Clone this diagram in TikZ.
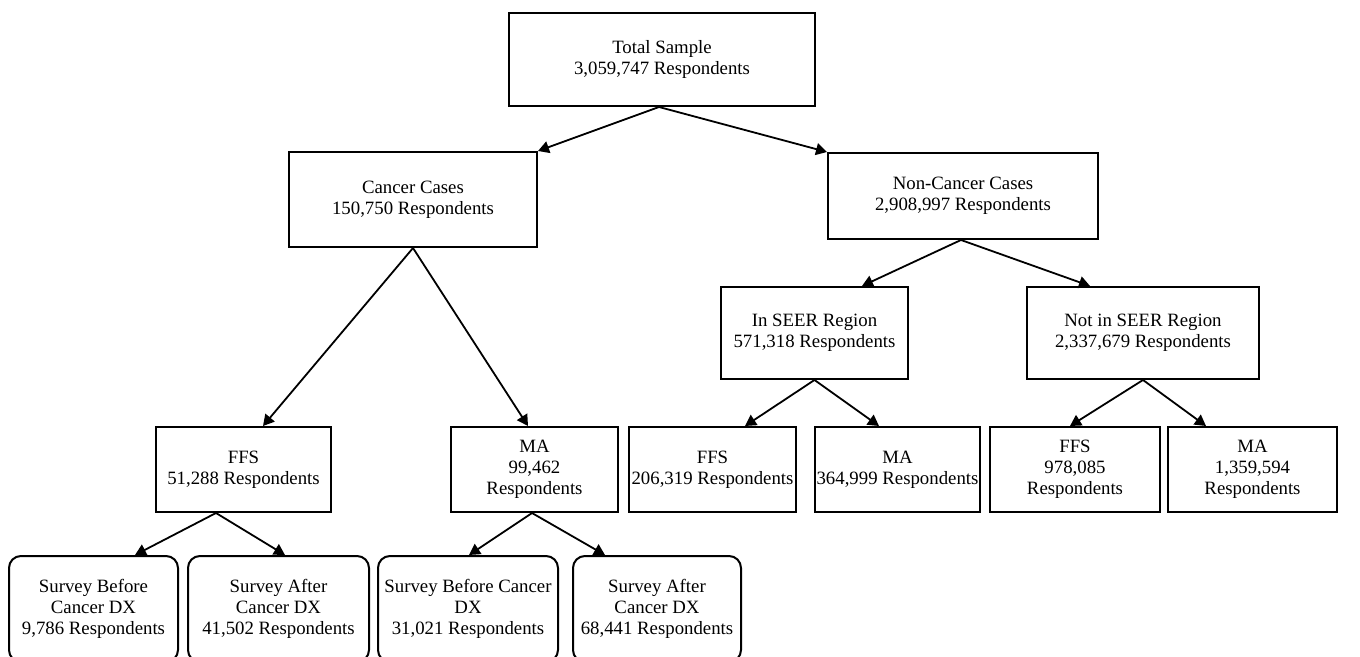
\documentclass[tikz,border=0pt]{standalone}
\usepackage{fontspec}
\setmainfont{Liberation Serif}
\usetikzlibrary{arrows.meta}
\tikzset{
  box/.style={draw=black, line width=1pt, align=center, inner sep=1pt,
    font=\fontsize{9.4pt}{10.5pt}\selectfont, minimum height=42.5pt},
  rbox/.style={box, rounded corners=6pt, minimum height=53pt},
  conn/.style={draw=black, line width=0.9pt, -{Triangle[length=5.5pt,width=6pt]}}
}
\begin{document}
\begin{tikzpicture}[x=0.5pt,y=-0.5pt]
\clip (0,0) rectangle (1360,657);
\fill[white] (0,0) rectangle (1360,657);
% level 0
\node[box, minimum width=153pt, minimum height=46.5pt] (tot) at (662,59.5) {Total Sample\\3,059,747 Respondents};
% level 1
\node[box, minimum width=124pt, minimum height=47.5pt] (cc) at (413,199.5) {Cancer Cases\\150,750 Respondents};
\node[box, minimum width=135pt, minimum height=43pt] (nc) at (963,196) {Non-Cancer Cases\\2,908,997 Respondents};
% level 2 (non-cancer)
\node[box, minimum width=93.5pt, minimum height=46pt] (ins) at (814.5,333) {In SEER Region\\571,318 Respondents};
\node[box, minimum width=116pt, minimum height=46pt] (nins) at (1143,333) {Not in SEER Region\\2,337,679 Respondents};
% level 3
\node[box, minimum width=87.5pt] (cffs) at (243.5,469.5) {FFS\\51,288 Respondents};
\node[box, minimum width=83.5pt] (cma) at (534.5,469.5) {MA\\99,462\\Respondents};
\node[box, minimum width=83.5pt] (iffs) at (712.5,469.5) {FFS\\206,319 Respondents};
\node[box, minimum width=82.5pt] (ima) at (897.5,469.5) {MA\\364,999 Respondents};
\node[box, minimum width=85pt] (nffs) at (1075,469.5) {FFS\\978,085\\Respondents};
\node[box, minimum width=84.5pt] (nma) at (1252.5,469.5) {MA\\1,359,594\\Respondents};
% level 4
\node[rbox, minimum width=84.5pt] (r1) at (93.5,609) {Survey Before\\Cancer DX\\9,786 Respondents};
\node[rbox, minimum width=90.5pt] (r2) at (278.5,609) {Survey After\\Cancer DX\\41,502 Respondents};
\node[rbox, minimum width=90pt] (r3) at (468,609) {Survey Before Cancer\\DX\\31,021 Respondents};
\node[rbox, minimum width=84pt] (r4) at (657,609) {Survey After\\Cancer DX\\68,441 Respondents};
% connectors
\draw[conn] ([xshift=-1.5pt]tot.south) -- (cc.north east);
\draw[conn] ([xshift=-1.5pt]tot.south) -- (nc.north west);
\draw[conn] (cc.south) -- ([xshift=9.75pt]cffs.north);
\draw[conn] (cc.south) -- ([xshift=-3.25pt]cma.north);
\draw[conn] ([xshift=-1pt]nc.south) -- ([xshift=23.75pt]ins.north);
\draw[conn] ([xshift=-1pt]nc.south) -- ([xshift=-26.5pt]nins.north);
\draw[conn] (ins.south) -- ([xshift=16.25pt]iffs.north);
\draw[conn] (ins.south) -- ([xshift=-9.25pt]ima.north);
\draw[conn] (nins.south) -- ([xshift=-2.5pt]nffs.north);
\draw[conn] (nins.south) -- ([xshift=-23.25pt]nma.north);
\draw[conn] ([xshift=-13.75pt]cffs.south) -- ([xshift=20.75pt]r1.north);
\draw[conn] ([xshift=-13.75pt]cffs.south) -- ([xshift=3.25pt]r2.north);
\draw[conn] ([xshift=-1.25pt]cma.south) -- ([xshift=0.5pt]r3.north);
\draw[conn] ([xshift=-1.25pt]cma.south) -- ([xshift=-26pt]r4.north);
\end{tikzpicture}
\end{document}
